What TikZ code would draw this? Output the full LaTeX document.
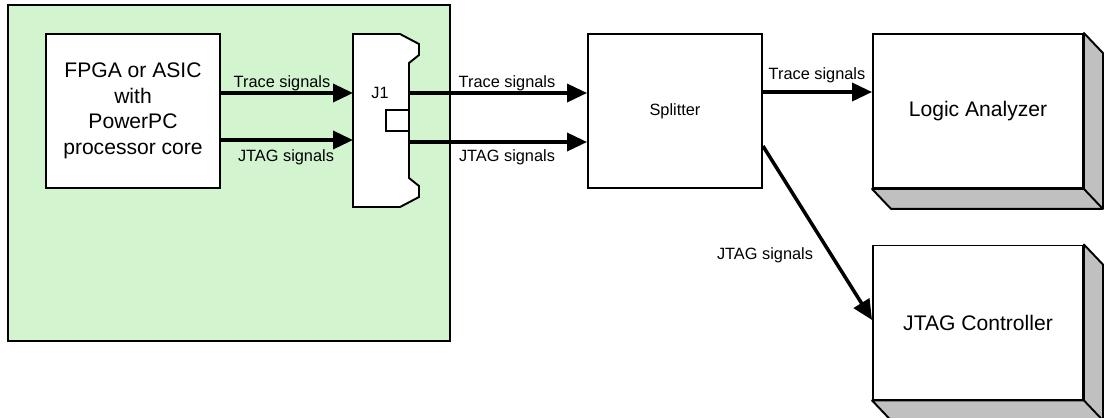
\documentclass[tikz,border=0pt]{standalone}
\usepackage{fontspec}
\setmainfont{Liberation Sans}
\usepackage{tikz}
\usetikzlibrary{positioning,arrows.meta,calc}
\usepackage{xcolor}
\definecolor{board}{RGB}{210,245,208}
\definecolor{shadow}{RGB}{192,192,192}

\begin{document}
\begin{tikzpicture}[
    x=0.02cm, y=-0.02cm,
    block/.style={draw, line width=1.1pt, fill=white, minimum width=3.48cm, minimum height=3.08cm, align=center, inner sep=0pt, font=\fontsize{12}{14.5}\selectfont},
    box3d/.style={block, minimum width=4.2cm},
    lbl/.style={inner sep=1pt, font=\fontsize{9.3}{11}\selectfont},
    sig/.style={-{Triangle[length=0.4cm, width=0.36cm]}, line width=2pt}
]
    \useasboundingbox (0,0) rectangle (1104,417);

    % Board
    \node[draw, line width=1.4pt, fill=board, minimum width=8.84cm, minimum height=6.72cm] (board) at (229,173) {};
    \node[block] (fpga) at (133,111) {FPGA or ASIC\\with\\PowerPC\\processor core};

    % Connector J1
    \node[minimum width=1.12cm, minimum height=3.46cm, inner sep=0pt, outer sep=0pt] (jone) at (381,120.5) {};
    \draw[line width=1.1pt, fill=white] (353,34) -- (400,34) -- (419,44) -- (419,55) -- (409,63) -- (409,178) -- (419,186) -- (419,197) -- (400,207) -- (353,207) -- cycle;
    \node[draw, line width=1.1pt, fill=white, minimum width=0.46cm, minimum height=0.42cm, inner sep=0pt] (key) at (397.5,120.5) {};
    \node[lbl] (jlabel) at (380,93) {J1};

    % Splitter and instruments
    \node[block, font=\fontsize{9.3}{11}\selectfont] (split) at (675,111) {Splitter};
    \node[box3d] (la) at (978,111) {Logic Analyzer};
    \node[box3d] (jc) at (978,322.5) {JTAG Controller};
    \foreach \b in {la,jc} {
        \filldraw[fill=shadow, line width=1.1pt, line join=round] (\b.north east) -- ++(19,20) -- ($(\b.south east)+(19,20)$) -- ($(\b.south west)+(19,20)$) -- (\b.south west) -- (\b.south east) -- cycle;
        \draw[line width=1.1pt] (\b.south east) -- ++(19,20);
    }

    % Signals
    \draw[sig] (fpga.east |- 0,93) -- (jone.west |- 0,93);
    \draw[sig] (fpga.east |- 0,140) -- (jone.west |- 0,140);
    \draw[sig] (jone.east |- 0,93) -- (split.west |- 0,93);
    \draw[sig] (jone.east |- 0,142) -- (split.west |- 0,142);
    \draw[sig] (split.east |- 0,92) -- (la.west |- 0,92);
    \draw[sig] (split.east |- 0,146) -- (jc.west |- 0,320);

    \node[lbl] (trin) at (282,83) {Trace signals};
    \node[lbl] (jtin) at (286,157) {JTAG signals};
    \node[lbl] (trout) at (507,83) {Trace signals};
    \node[lbl] (jtout) at (507,157) {JTAG signals};
    \node[lbl] (trla) at (817,75) {Trace signals};
    \node[lbl] (jtjc) at (765,255) {JTAG signals};
\end{tikzpicture}
\end{document}
